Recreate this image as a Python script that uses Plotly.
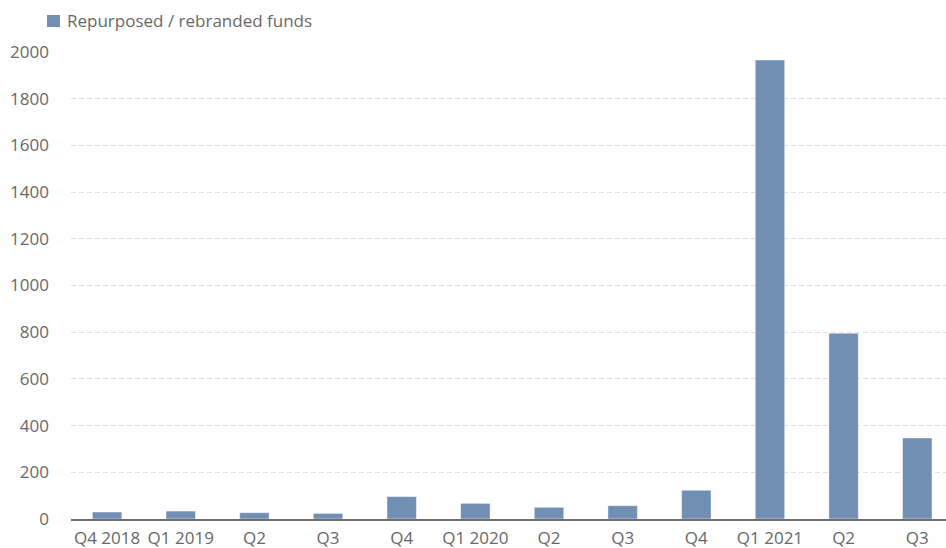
import plotly.graph_objects as go

# Quarterly count of repurposed / rebranded funds
categories = list(range(12))
tick_labels = ["Q4 2018", "Q1 2019", "Q2", "Q3", "Q4", "Q1 2020", "Q2",
               "Q3", "Q4", "Q1 2021", "Q2", "Q3"]
funds = [30, 34, 27, 24, 96, 67, 50, 57, 123, 1966, 795, 347]

y_ticks = [0, 200, 400, 600, 800, 1000, 1200, 1400, 1600, 1800, 2000]

series_name = "Repurposed / rebranded funds"
bar_color = "#718fb3"
text_color = "#686868"
font_family = "Open Sans, Roboto, Arial, sans-serif"

fig = go.Figure()
fig.add_trace(go.Bar(
    x=categories,
    y=funds,
    name=series_name,
    marker=dict(color=bar_color, line=dict(color="rgba(255,255,255,0.45)", width=1)),
    width=0.4,
    showlegend=False,
))

# Legend key drawn at the top-left of the page
fig.add_shape(
    type="rect", xref="paper", yref="paper",
    x0=-24 / 875, x1=-11 / 875, y0=1 + 25 / 467, y1=1 + 37 / 467,
    fillcolor=bar_color, line=dict(width=0),
)
fig.add_annotation(
    text=series_name, xref="paper", yref="paper",
    x=-6 / 875, y=1 + 31 / 467, xanchor="left", yanchor="middle",
    showarrow=False, font=dict(family=font_family, size=17, color=text_color),
)

fig.update_layout(
    width=946,
    height=548,
    margin=dict(l=71, r=0, t=52, b=29),
    paper_bgcolor="white",
    plot_bgcolor="white",
    font=dict(family=font_family, size=17, color=text_color),
    showlegend=False,
)

fig.update_xaxes(
    range=[-0.49, 11.39],
    tickmode="array",
    tickvals=categories,
    ticktext=tick_labels,
    showline=True,
    linecolor="#6e6e6e",
    linewidth=2,
    showgrid=False,
    zeroline=False,
    ticks="",
    ticklabelstandoff=3,
    automargin=False,
    tickfont=dict(size=17, color=text_color),
)

fig.update_yaxes(
    range=[0, 2000],
    tickmode="array",
    tickvals=y_ticks,
    showgrid=True,
    gridcolor="#dfdfdf",
    griddash="5px,3px",
    gridwidth=1,
    zeroline=False,
    showline=False,
    ticks="",
    ticklabelstandoff=21,
    automargin=False,
    tickfont=dict(size=17, color=text_color),
)

fig.write_html("out.html")
